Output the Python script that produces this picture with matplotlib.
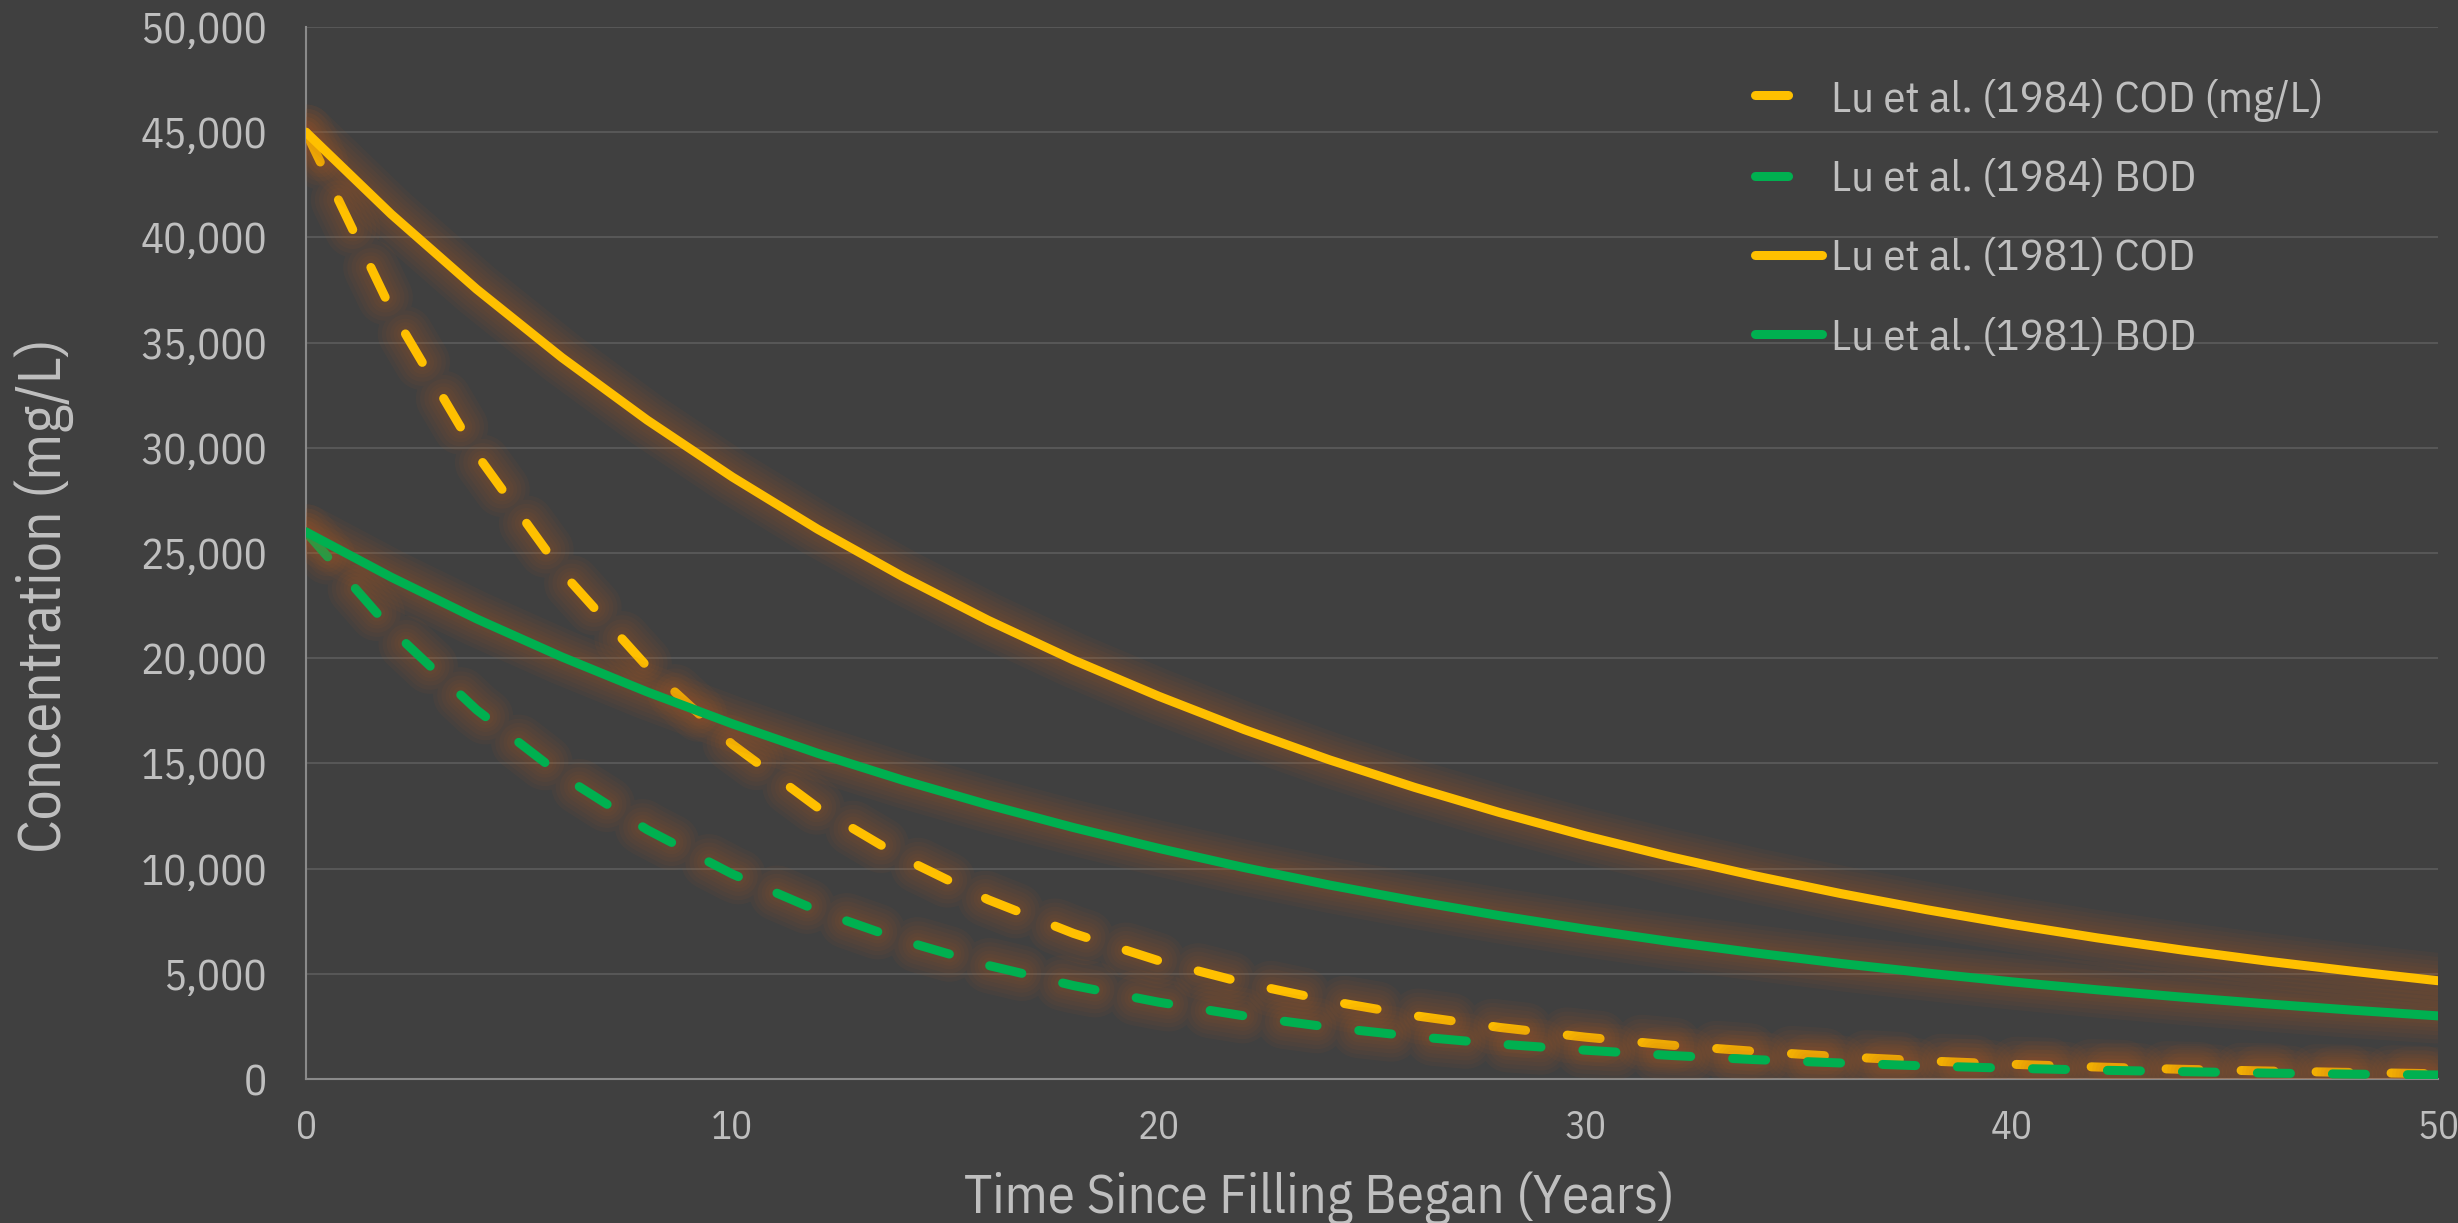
import matplotlib
matplotlib.use("Agg")
import matplotlib.pyplot as plt
from matplotlib.lines import Line2D
from matplotlib.ticker import FuncFormatter, MultipleLocator

plt.rcParams['font.family'] = ['IBM Plex Sans Condensed', 'DejaVu Sans']
plt.rcParams['lines.scale_dashes'] = False

# ---- data ----
years = [0, 2, 4, 6, 8, 10, 12, 14, 16, 18, 20, 22, 24, 26, 28, 30,
         32, 34, 36, 38, 40, 42, 44, 46, 48, 50]
cod_1984 = [45000, 36550, 29700, 24100, 19600, 15900, 12900, 10500, 8520, 6920,
            5620, 4570, 3710, 3010, 2450, 1990, 1610, 1310, 1060, 860,
            700, 570, 460, 380, 310, 250]
bod_1984 = [26000, 21360, 17550, 14420, 11850, 9740, 8000, 6580, 5400, 4440,
            3650, 3000, 2460, 2020, 1660, 1370, 1120, 920, 760, 620,
            510, 420, 350, 280, 230, 190]
cod_1981 = [45000, 41100, 37540, 34290, 31320, 28610, 26130, 23870, 21800, 19910,
            18190, 16610, 15170, 13860, 12660, 11560, 10560, 9650, 8810, 8050,
            7350, 6710, 6130, 5600, 5120, 4670]
bod_1981 = [26000, 23850, 21870, 20060, 18400, 16880, 15480, 14200, 13030, 11950,
            10960, 10050, 9220, 8460, 7760, 7120, 6530, 5990, 5490, 5040,
            4620, 4240, 3890, 3570, 3270, 3000]

labels = ["Lu et al. (1984) COD (mg/L)", "Lu et al. (1984) BOD",
          "Lu et al. (1981) COD", "Lu et al. (1981) BOD"]
series = [cod_1984, bod_1984, cod_1981, bod_1981]

# ---- style ----
BG = '#404040'
TXT = '#BFBFBF'
YEL = '#FFC000'
GRN = '#00B050'
GLOW = '#B85A22'
colors = [YEL, GRN, YEL, GRN]
dashed = [True, True, False, False]
LW = 6.5
DASH = (0, (23.8, 30.2))

fig = plt.figure(figsize=(24.58, 12.23), dpi=100, facecolor=BG)
ax = fig.add_axes([306/2458, 1 - 1079/1223, (2438-306)/2458, (1079-27)/1223])
ax.set_facecolor(BG)

for i, (vals, c, d) in enumerate(zip(series, colors, dashed)):
    z = 3 + i
    ls = DASH if d else '-'
    for w in [40, 34, 28, 22, 17, 12]:
        ax.plot(years, vals, color=GLOW, lw=w, alpha=0.06, linestyle=ls,
                solid_capstyle='round', dash_capstyle='round',
                solid_joinstyle='round', zorder=z)
    ax.plot(years, vals, color=c, lw=LW, linestyle=ls,
            solid_capstyle='round', dash_capstyle='round',
            solid_joinstyle='round', zorder=z + 0.5)

ax.set_xlim(0, 50)
ax.set_ylim(0, 50000)
ax.xaxis.set_major_locator(MultipleLocator(10))
ax.yaxis.set_major_locator(MultipleLocator(5000))
ax.yaxis.set_major_formatter(FuncFormatter(lambda v, p: f"{v:,.0f}"))
ax.grid(axis='y', color='#575757', lw=1.5, zorder=0)
ax.set_axisbelow(True)
for s in ['top', 'right']:
    ax.spines[s].set_visible(False)
for s in ['left', 'bottom']:
    ax.spines[s].set_color('#8A8A8A')
    ax.spines[s].set_linewidth(1.5)
ax.tick_params(axis='y', length=0, pad=28, labelsize=31, labelcolor=TXT)
ax.tick_params(axis='x', length=0, pad=22, labelsize=28, labelcolor=TXT)

fig.text(44/2458, 1 - 596/1223, "Concentration (mg/L)", rotation=90,
         ha='center', va='center', fontsize=43, color=TXT)
fig.text(1319/2458, 1 - 1198/1223, "Time Since Filling Began (Years)",
         ha='center', va='center', fontsize=39.5, color=TXT)

handles = []
for c, d in zip(colors, dashed):
    handles.append(Line2D([], [], color=c, lw=LW, linestyle=DASH if d else '-',
                          solid_capstyle='round', dash_capstyle='round'))
leg = ax.legend(handles, labels, loc='upper left',
                bbox_to_anchor=(1755/2458, 1 - 78/1223),
                bbox_transform=fig.transFigure, frameon=False,
                fontsize=32, handlelength=1.5, handletextpad=0.2,
                labelspacing=0.86, borderpad=0, borderaxespad=0)
for t in leg.get_texts():
    t.set_color(TXT)

fig.savefig("out.png", dpi=100, facecolor=BG)
